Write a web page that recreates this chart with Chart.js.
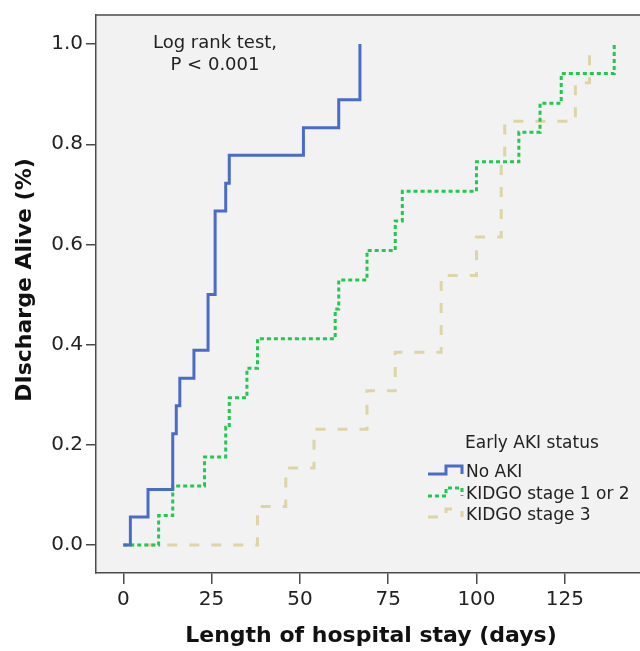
<!DOCTYPE html>
<html>
<head>
<meta charset="utf-8">
<script src="https://cdn.jsdelivr.net/npm/chart.js@4"></script>
<style>
  html, body { margin: 0; padding: 0; background: #fff; }
  #wrap { width: 640px; height: 651px; position: relative; }
</style>
</head>
<body>
<div id="wrap"><canvas id="km"></canvas></div>
<script>
// Kaplan-Meier style curves
const seriesLabels = ['No AKI', 'KIDGO stage 1 or 2', 'KIDGO stage 3'];

const noAkiDays = [0, 2, 7, 14, 15, 16, 20, 24, 26, 29, 30, 51, 61, 67];
const noAkiRate = [0, 0.056, 0.111, 0.222, 0.278, 0.333, 0.389, 0.5, 0.667, 0.722, 0.778, 0.833, 0.889, 1.0];

const stage12Days = [0, 10, 14, 23, 29, 30, 35, 38, 60, 61, 69, 77, 79, 100, 112, 118, 124, 139];
const stage12Rate = [0, 0.059, 0.118, 0.176, 0.235, 0.294, 0.353, 0.412, 0.471, 0.529, 0.588, 0.647, 0.706, 0.765, 0.824, 0.882, 0.941, 1.0];

const stage3Days = [0, 38, 46, 54, 69, 77, 90, 100, 107, 108, 128, 132];
const stage3Rate = [0, 0.077, 0.154, 0.231, 0.308, 0.385, 0.538, 0.615, 0.769, 0.846, 0.923, 1.0];

const xTicks = [0, 25, 50, 75, 100, 125];
const yTicks = [0, 0.2, 0.4, 0.6, 0.8, 1.0];

const FONT = "'DejaVu Sans', sans-serif";
const AXIS = '#4a4a4a';

function pts(xs, ys) {
    return xs.map((x, i) => ({ x, y: ys[i] }));
}

const styles = [
    { color: '#4a6cc6', dash: [], width: 3 },
    { color: '#22c84f', dash: [4, 3], width: 3 },
    { color: '#ddd5a6', dash: [10, 12], width: 3 },
];

// plot background + top frame line
const frame = {
    id: 'frame',
    beforeDraw(chart) {
        const { ctx, chartArea: a } = chart;
        ctx.save();
        ctx.fillStyle = '#fff';
        ctx.fillRect(0, 0, chart.width, chart.height);
        ctx.fillStyle = '#f2f2f2';
        ctx.fillRect(a.left, a.top, a.right - a.left, a.bottom - a.top);
        ctx.restore();
    },
    afterDraw(chart) {
        const { ctx, chartArea: a } = chart;
        ctx.save();
        ctx.strokeStyle = AXIS;
        ctx.lineWidth = 1.5;
        ctx.beginPath();
        ctx.moveTo(a.left, a.top);
        ctx.lineTo(a.right, a.top);
        ctx.stroke();
        ctx.restore();
    },
};

// axis titles, annotation, legend
const texts = {
    id: 'texts',
    afterDraw(chart) {
        const { ctx } = chart;
        ctx.save();
        ctx.fillStyle = '#111';
        ctx.textAlign = 'center';
        ctx.textBaseline = 'middle';

        ctx.font = 'bold 22px ' + FONT;
        ctx.fillText('Length of hospital stay (days)', 371, 636);
        ctx.save();
        ctx.translate(25, 280);
        ctx.rotate(-Math.PI / 2);
        ctx.fillText('DIscharge Alive (%)', 0, 0);
        ctx.restore();

        ctx.fillStyle = '#222';
        ctx.font = '18px ' + FONT;
        ctx.fillText('Log rank test,', 215, 43);
        ctx.fillText('P < 0.001', 215, 65);

        ctx.textAlign = 'left';
        ctx.font = '17px ' + FONT;
        ctx.fillText('Early AKI status', 465, 444);
        const rows = [473, 495, 516];
        seriesLabels.forEach((label, i) => {
            const c = rows[i];
            const s = styles[i];
            ctx.save();
            ctx.strokeStyle = s.color;
            ctx.lineWidth = s.width;
            ctx.setLineDash(s.dash);
            ctx.beginPath();
            ctx.moveTo(428, c + 1);
            ctx.lineTo(446, c + 1);
            ctx.lineTo(446, c - 7);
            ctx.lineTo(462, c - 7);
            ctx.lineTo(462, c + 1);
            ctx.stroke();
            ctx.restore();
            ctx.fillText(label, 466, c);
        });
        ctx.restore();
    },
};

const datasets = [
    pts(noAkiDays, noAkiRate),
    pts(stage12Days, stage12Rate),
    pts(stage3Days, stage3Rate),
].map((data, i) => ({
    label: seriesLabels[i],
    data,
    stepped: 'before',
    borderColor: styles[i].color,
    borderWidth: styles[i].width,
    borderDash: styles[i].dash,
    pointRadius: 0,
    fill: false,
    order: i, // blue on top
}));

new Chart(document.getElementById('km'), {
    type: 'line',
    data: { datasets },
    options: {
        responsive: true,
        maintainAspectRatio: false,
        animation: false,
        layout: { padding: { top: 13, right: 0, left: 0, bottom: 0 } },
        plugins: { legend: { display: false }, tooltip: { enabled: false } },
        scales: {
            x: {
                type: 'linear',
                min: -7.73,
                max: 146.3,
                afterBuildTicks: s => { s.ticks = xTicks.map(v => ({ value: v })); },
                afterFit: s => { s.height = 78; },
                grid: { drawOnChartArea: false, tickLength: 11, tickColor: AXIS, lineWidth: 1.5 },
                border: { display: true, color: AXIS, width: 1.5 },
                ticks: { color: '#222', padding: 4, font: { family: FONT, size: 20 } },
            },
            y: {
                type: 'linear',
                min: -0.0557,
                max: 1.058,
                afterBuildTicks: s => { s.ticks = yTicks.map(v => ({ value: v })); },
                afterFit: s => { s.width = 96; },
                grid: { drawOnChartArea: false, tickLength: 10, tickColor: AXIS, lineWidth: 1.5 },
                border: { display: true, color: AXIS, width: 1.5 },
                ticks: {
                    color: '#222', padding: 3, font: { family: FONT, size: 20 },
                    callback: v => v.toFixed(1),
                },
            },
        },
    },
    plugins: [frame, texts],
});
</script>
</body>
</html>
